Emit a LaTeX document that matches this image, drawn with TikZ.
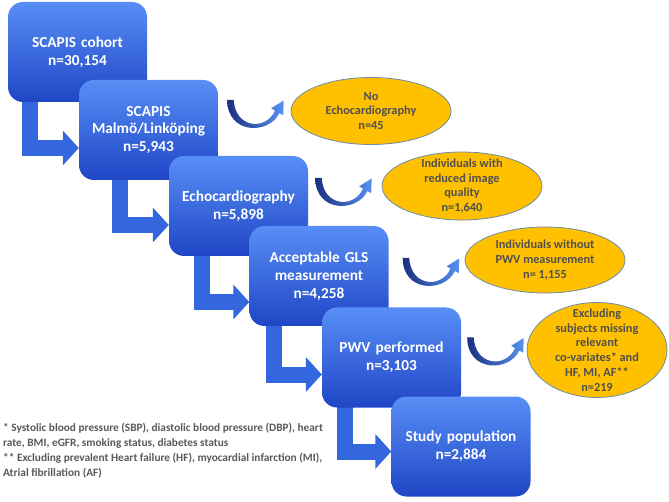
\documentclass[tikz,border=0pt]{standalone}
\usepackage{fontspec}
\setmainfont{Carlito}
\usetikzlibrary{arrows.meta,calc,shapes.geometric,positioning,backgrounds}

\definecolor{boxtop}{RGB}{88,142,246}
\definecolor{boxbot}{RGB}{31,70,198}
\definecolor{stemblue}{RGB}{52,102,222}
\definecolor{navy}{RGB}{28,48,128}
\definecolor{skyblue}{RGB}{86,146,240}
\definecolor{gold}{RGB}{255,192,0}
\definecolor{ellline}{RGB}{110,140,170}
\definecolor{greytext}{RGB}{80,80,80}
\definecolor{notegrey}{RGB}{89,89,89}

\begin{document}
\begin{tikzpicture}[x=1pt,y=-1pt]
\tikzstyle{stage}=[rounded corners=15pt, top color=boxtop, bottom color=boxbot, minimum width=139pt, minimum height=100pt, text width=137pt, align=center, inner sep=0pt, text=white, font=\bfseries\fontsize{15.3}{17.8}\selectfont]
\tikzstyle{outcome}=[ellipse, fill=gold, draw=ellline, line width=0.8pt, inner sep=0pt]
\tikzstyle{outtext}=[align=center, text=greytext, font=\bfseries\fontsize{12.3}{14.7}\selectfont]
\tikzstyle{bent}=[draw=stemblue, line width=16pt, line join=miter, -{Triangle[width=34pt,length=16pt]}]
\tikzstyle{uturn}=[left color=navy, right color=skyblue]

\useasboundingbox (0,0) rectangle (669,502);

% flow boxes
\node[stage] (b1) at (77.5,52) {SCAPIS cohort\\n=30,154};
\node[stage] (b2) at ($(b1)+(71,78)$) {SCAPIS\\Malmö/Linköping\\n=5,943};
\node[stage] (b3) at ($(b2)+(90,76)$) {Echocardiography\\n=5,898};
\node[stage] (b4) at ($(b3)+(80.5,70)$) {Acceptable GLS\\measurement\\n=4,258};
\node[stage] (b5) at ($(b4)+(72.5,81.5)$) {PWV performed\\n=3,103};
\node[stage] (b6) at ($(b5)+(69.5,89)$) {Study population\\n=2,884};

% bent arrows
\begin{scope}[on background layer]
\foreach \a/\b/\s/\t in {b1/b2/22.5/18, b2/b3/41.5/19, b3/b4/33.5/26, b4/b5/25/17, b5/b6/23.5/5}
  \draw[bent] ($(\a.south west)+(\s,-6)$) |- ($(\b.west)+(0,\t)$);
\end{scope}

% excluded
\node[outcome, minimum width=160pt, minimum height=67pt] (e1) at (371,111) {};
\node[outtext] (t1) at (e1) {No\\Echocardiography\\n=45};
\node[outcome, minimum width=160pt, minimum height=68pt] (e2) at (462,186) {};
\node[outtext] (t2) at (e2) {Individuals with\\reduced image\\quality\\n=1,640};
\node[outcome, minimum width=160pt, minimum height=66pt] (e3) at (545,260) {};
\node[outtext] (t3) at (e3) {Individuals without\\PWV measurement\\n= 1,155};
\node[outcome, minimum width=140pt, minimum height=95pt] (e4) at (597,350) {};
\node[outtext] (t4) at (e4) {Excluding\\subjects missing\\relevant\\co-variates* and\\HF, MI, AF**\\n=219};

% u-turn arrows
\coordinate (u1) at ($(b2.north east)+(9,20)$);
\coordinate (u2) at ($(b3.north east)+(7,22)$);
\coordinate (u3) at ($(b4.north east)+(14,32)$);
\coordinate (u4) at ($(b5.north east)+(6,30)$);
\foreach \u in {u1,u2,u3,u4}
  \shade[uturn, shift={(\u)}] (0,0) -- (6.5,0) .. controls (8,29) and (39,31) .. (47.8,10.8) -- (44,8.5) -- (56.5,0.7) -- (56,15.5) -- (52.2,13.2) .. controls (42,35) and (0,35) .. cycle;

% footnote
\node[anchor=north west, align=left, inner sep=0pt, text=notegrey, font=\bfseries\fontsize{11.3}{15}\selectfont] (note) at (3,423)
  {* Systolic blood pressure (SBP), diastolic blood pressure (DBP), heart\\
   rate, BMI, eGFR, smoking status, diabetes status\\
   ** Excluding prevalent Heart failure (HF), myocardial infarction (MI),\\
   Atrial fibrillation (AF)};
\end{tikzpicture}
\end{document}
